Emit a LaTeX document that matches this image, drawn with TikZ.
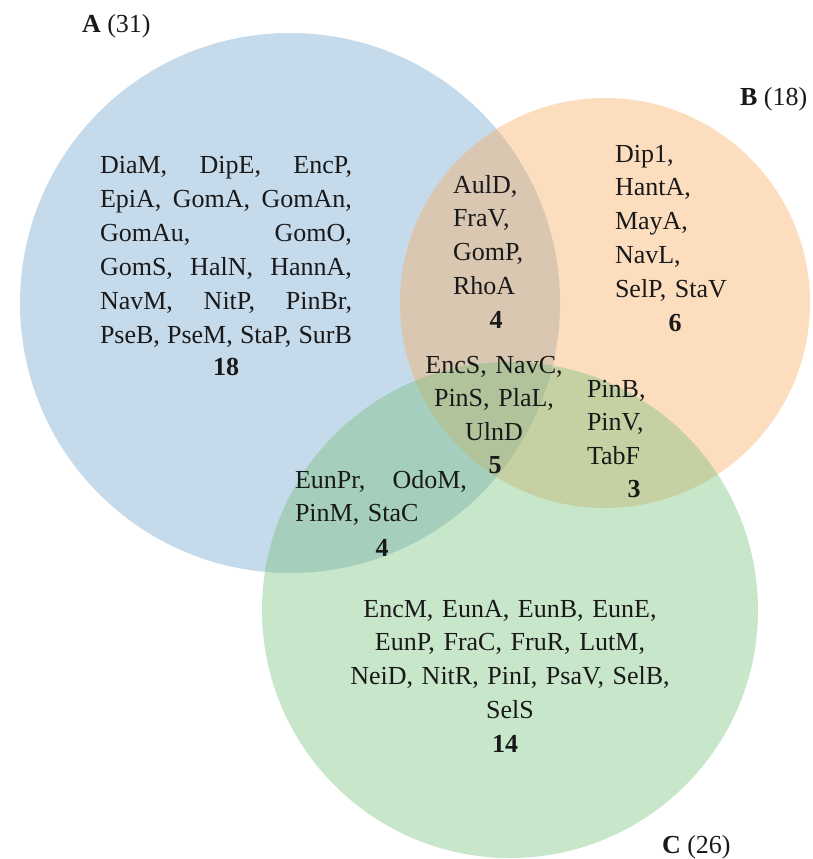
\documentclass[tikz,border=0pt]{standalone}
\usepackage{fontspec}
\setmainfont{Liberation Serif}
\definecolor{cA}{RGB}{110,162,202}
\definecolor{cB}{RGB}{247,170,92}
\definecolor{cC}{RGB}{117,192,120}
\definecolor{ink}{RGB}{25,25,25}
\newcommand{\jline}[2]{\makebox[#1][l]{#2}}
\tikzset{
  setfill/.style={fill opacity=0.4, draw=none},
  txt/.style={font=\fontsize{26}{33.8}\selectfont, text=ink, inner sep=0pt, outer sep=0pt},
  num/.style={txt, font=\fontsize{26}{33.8}\selectfont\bfseries, anchor=base},
}
\begin{document}
\begin{tikzpicture}[x=1pt,y=-1pt]
\useasboundingbox (0,0) rectangle (813,859);
% circles
\fill[cA, setfill] (290,303) circle[radius=270];
\fill[cB, setfill] (605,303) circle[radius=205];
\fill[cC, setfill] (510,610) circle[radius=248];
% titles
\node[txt, anchor=base west] (tA) at (82,33) {\textbf{A} (31)};
\node[txt, anchor=base west] (tB) at (740,105) {\textbf{B} (18)};
\node[txt, anchor=base west] (tC) at (662,853) {\textbf{C} (26)};
% A only
\node[txt, anchor=base west, text width=252pt, align=left,
      font=\fontsize{26}{34}\selectfont] (sA) at (100,173)
 {\jline{252pt}{DiaM,\hfill DipE,\hfill EncP,}\\
  \jline{252pt}{EpiA,\hfill GomA,\hfill GomAn,}\\
  \jline{252pt}{GomAu,\hfill GomO,}\\
  \jline{252pt}{GomS,\hfill HalN,\hfill HannA,}\\
  \jline{252pt}{NavM,\hfill NitP,\hfill PinBr,}\\
  \jline{252pt}{PseB,\hfill PseM,\hfill StaP,\hfill SurB}};
\node[num] (nA) at (226,375) {18};
% B only
\node[txt, anchor=base west, text width=130pt, align=left] (sB) at (615,162)
 {Dip1,\\ HantA,\\ MayA,\\ NavL,\\ SelP, StaV};
\node[num] (nB) at (675,331) {6};
% A and B
\node[txt, anchor=base west, text width=90pt, align=left] (sAB) at (453,193)
 {AulD,\\ FraV,\\ GomP,\\ RhoA};
\node[num] (nAB) at (496,328) {4};
% A, B and C
\node[txt, anchor=base, text width=170pt, align=center] (sABC) at (494,373)
 {EncS, NavC,\\ PinS, PlaL,\\ UlnD};
\node[num] (nABC) at (495,473) {5};
% B and C
\node[txt, anchor=base west, text width=80pt, align=left] (sBC) at (587,397)
 {PinB,\\ PinV,\\ TabF};
\node[num] (nBC) at (634,497) {3};
% A and C
\node[txt, anchor=base west, text width=172pt, align=left] (sAC) at (295,488)
 {\jline{172pt}{EunPr,\hfill OdoM,}\\ PinM, StaC};
\node[num] (nAC) at (382,556) {4};
% C only
\node[txt, anchor=base, text width=340pt, align=center] (sC) at (510,617)
 {EncM, EunA, EunB, EunE,\\ EunP, FraC, FruR, LutM,\\ NeiD, NitR, PinI, PsaV, SelB,\\ SelS};
\node[num] (nC) at (505,752) {14};
\end{tikzpicture}
\end{document}
